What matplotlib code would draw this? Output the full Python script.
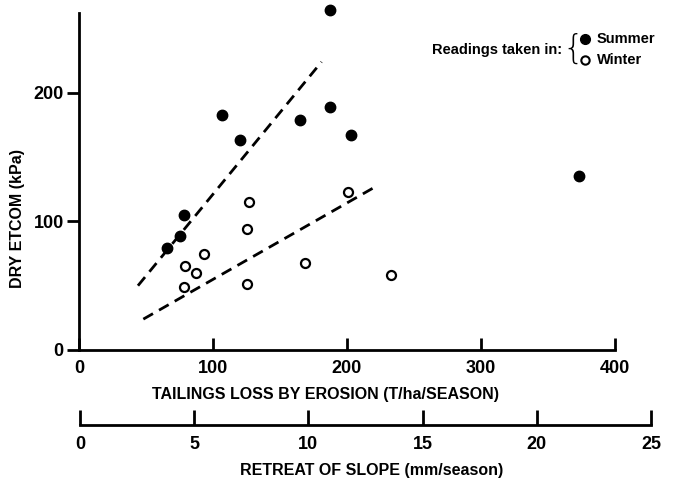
import matplotlib
matplotlib.use("Agg")
import matplotlib.pyplot as plt

# ---- data ----
summer_x = [66, 75, 78, 107, 120, 165, 187, 187, 203, 373]
summer_y = [79, 89, 105, 183, 163, 179, 189, 264, 167, 135]
winter_x = [78, 79, 87, 93, 125, 125, 127, 169, 201, 233]
winter_y = [49, 65, 60, 75, 51, 94, 115, 68, 123, 58]
fit_summer_x = [44, 181]
fit_summer_y = [50, 224]
fit_winter_x = [48, 223]
fit_winter_y = [24, 128]
x_ticks = [0, 100, 200, 300, 400]
y_ticks = [0, 100, 200]
retreat_ticks = [0, 5, 10, 15, 20, 25]

FONT = "Liberation Sans"
plt.rcParams['font.family'] = [FONT, 'DejaVu Sans']
plt.rcParams['font.weight'] = 'bold'

W, H = 674, 482
fig = plt.figure(figsize=(W / 100, H / 100), dpi=100)

def fx(px):
    return px / W

def fy(py):
    return 1 - py / H

# main axes: x 0->79px, 400->615px ; y 0->350px, 262->13px
ax = fig.add_axes([fx(79), fy(350), fx(615) - fx(79), fy(13) - fy(350)])
ax.set_xlim(0, 400)
ax.set_ylim(0, 262)
for s in ['top', 'right']:
    ax.spines[s].set_visible(False)
for s in ['left', 'bottom']:
    ax.spines[s].set_linewidth(2)
ax.set_xticks(x_ticks)
ax.set_yticks(y_ticks)
ax.tick_params(axis='x', direction='in', length=9, width=2, pad=7, labelsize=13)
ax.tick_params(axis='y', direction='out', length=9, width=2, pad=2, labelsize=13)

ax.plot(fit_summer_x, fit_summer_y, ls=(0, (4, 2.5)), color='black', lw=2)
ax.plot(fit_winter_x, fit_winter_y, ls=(0, (4, 2.5)), color='black', lw=2)
ax.plot(summer_x, summer_y, 'o', color='black', ms=7.5, clip_on=False)
ax.plot(winter_x, winter_y, 'o', mfc='white', mec='black', mew=1.6, ms=6.5, clip_on=False)

fig.text(fx(325), fy(395), "TAILINGS LOSS BY EROSION (T/ha/SEASON)", ha='center', va='center', fontsize=11.5)
fig.text(fx(18), fy(218), "DRY ETCOM (kPa)", ha='center', va='center', rotation=90, fontsize=11.5)

# secondary scale
ax2 = fig.add_axes([fx(80), fy(425), fx(651) - fx(80), 0.001])
ax2.set_xlim(0, 25)
ax2.set_yticks([])
for s in ['top', 'right', 'left']:
    ax2.spines[s].set_visible(False)
ax2.spines['bottom'].set_linewidth(2)
ax2.patch.set_visible(False)
ax2.set_xticks(retreat_ticks)
ax2.tick_params(axis='x', direction='in', length=11, width=2, pad=8, labelsize=13)
fig.text(fx(372), fy(470), "RETREAT OF SLOPE (mm/season)", ha='center', va='center', fontsize=11.5)

# legend
fig.text(fx(562), fy(50), "Readings taken in:", ha='right', va='center', fontsize=10.5)
fig.text(fx(573), fy(49), "{", ha='center', va='center', fontsize=24, fontweight='light',
         family='DejaVu Sans')
fig.lines.append(plt.Line2D([fx(585)], [fy(39)], marker='o', color='black', ms=7, transform=fig.transFigure))
fig.lines.append(plt.Line2D([fx(585)], [fy(60)], marker='o', mfc='white', mec='black', mew=1.5, ms=6, transform=fig.transFigure))
fig.text(fx(597), fy(39), "Summer", ha='left', va='center', fontsize=10.5)
fig.text(fx(597), fy(60), "Winter", ha='left', va='center', fontsize=10.5)

fig.savefig("out.png", dpi=100)
